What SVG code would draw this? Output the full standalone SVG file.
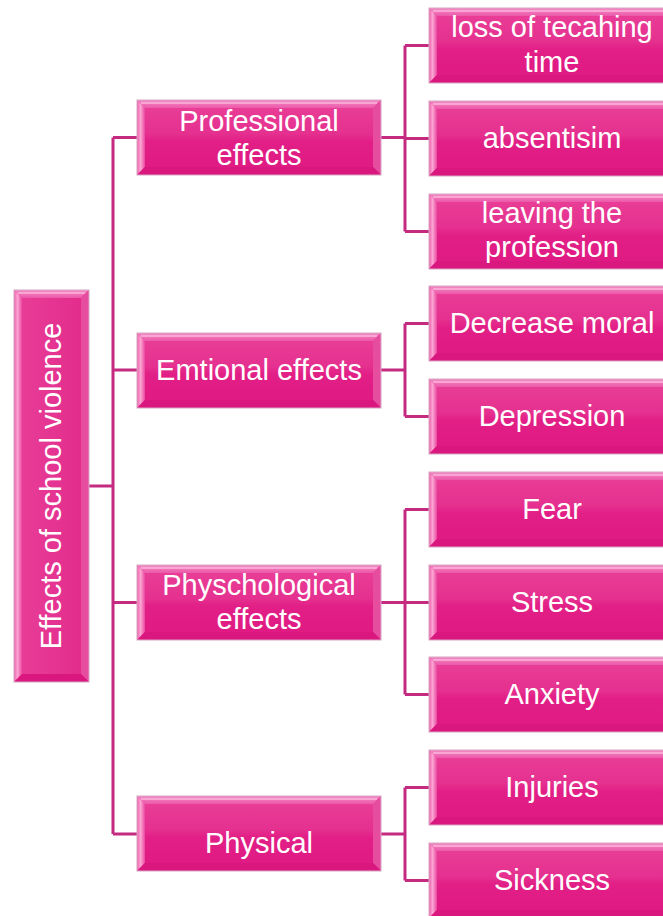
<svg xmlns="http://www.w3.org/2000/svg" xmlns:xlink="http://www.w3.org/1999/xlink" width="663" height="916" viewBox="0 0 663 916">
  <style>
    .lbl { font-family: "Liberation Sans", Arial, sans-serif; font-size: 29px; fill: #ffffff; text-anchor: middle; }
    .wire { fill: none; stroke: #c42a80; stroke-width: 3; }
    .edge { fill: none; stroke: #d6a6c3; stroke-width: 1; }
    .shine { fill: none; stroke: #fbb6dc; stroke-width: 1.5; }
  </style>
  <defs>
    <linearGradient id="face" x1="0" y1="0" x2="0" y2="1">
      <stop offset="0" stop-color="#e94198"/>
      <stop offset="0.45" stop-color="#e5308f"/>
      <stop offset="0.55" stop-color="#e21f86"/>
      <stop offset="1" stop-color="#df1a83"/>
    </linearGradient>
    <linearGradient id="faceV" x1="0" y1="0" x2="1" y2="0">
      <stop offset="0" stop-color="#e83f98"/>
      <stop offset="1" stop-color="#e22a8b"/>
    </linearGradient>
    <linearGradient id="topBevel" x1="0" y1="0" x2="0" y2="1">
      <stop offset="0" stop-color="#f48bc5"/>
      <stop offset="1" stop-color="#ec59a9"/>
    </linearGradient>
    <linearGradient id="leftBevel" x1="0" y1="0" x2="1" y2="0">
      <stop offset="0" stop-color="#ee5eab"/>
      <stop offset="0.45" stop-color="#fba6d4"/>
      <stop offset="1" stop-color="#e9479e"/>
    </linearGradient>

    <!-- level-one box: 244 x 75 -->
    <g id="box1">
      <rect x="0" y="0" width="244" height="75" fill="url(#face)"/>
      <polygon points="0,0 244,0 236,8 8,8" fill="url(#topBevel)"/>
      <polygon points="0,0 8,8 8,67 0,75" fill="url(#leftBevel)"/>
      <polygon points="244,0 244,75 236,67 236,8" fill="#e64d9f"/>
      <polygon points="0,75 8,67 236,67 244,75" fill="#d9177e"/>
      <path class="shine" d="M4,3 H240"/>
      <rect x="0" y="0" width="244" height="75" class="edge"/>
    </g>

    <!-- level-two box: 246 x 75 -->
    <g id="box2">
      <rect x="0" y="0" width="246" height="75" fill="url(#face)"/>
      <polygon points="0,0 246,0 238,8 8,8" fill="url(#topBevel)"/>
      <polygon points="0,0 8,8 8,67 0,75" fill="url(#leftBevel)"/>
      <polygon points="246,0 246,75 238,67 238,8" fill="#e64d9f"/>
      <polygon points="0,75 8,67 238,67 246,75" fill="#d9177e"/>
      <path class="shine" d="M4,3 H242"/>
      <rect x="0" y="0" width="246" height="75" class="edge"/>
    </g>
  </defs>

  <rect width="663" height="916" fill="#ffffff"/>

  <!-- connectors -->
  <g id="connectors">
    <!-- root to level one -->
    <path class="wire" d="M89,486 H113"/>
    <path class="wire" d="M113,137.5 V834"/>
    <path class="wire" d="M113,137.5 H137 M113,370 H137 M113,602.5 H137 M113,834 H137"/>
    <!-- professional effects -->
    <path class="wire" d="M381,137.5 H405 M405,45.5 V231.5 M405,45.5 H429 M405,138.5 H429 M405,231.5 H429"/>
    <!-- emotional effects -->
    <path class="wire" d="M381,370 H405 M405,323.5 V416.5 M405,323.5 H429 M405,416.5 H429"/>
    <!-- psychological effects -->
    <path class="wire" d="M381,602.5 H405 M405,509.5 V694.5 M405,509.5 H429 M405,602.5 H429 M405,694.5 H429"/>
    <!-- physical -->
    <path class="wire" d="M381,834 H405 M405,787.5 V880.5 M405,787.5 H429 M405,880.5 H429"/>
  </g>

  <!-- root -->
  <g id="root">
    <rect x="14" y="290" width="75" height="392" fill="url(#faceV)"/>
    <polygon points="14,290 89,290 81,298 22,298" fill="url(#topBevel)"/>
    <polygon points="14,290 22,298 22,674 14,682" fill="url(#leftBevel)"/>
    <polygon points="89,290 89,682 81,674 81,298" fill="#e64d9f"/>
    <polygon points="14,682 22,674 81,674 89,682" fill="#d9177e"/>
    <path class="shine" d="M18,293 H85"/>
    <rect x="14" y="290" width="75" height="392" class="edge"/>
    <text class="lbl" transform="translate(61,486) rotate(-90)" x="0" y="0">Effects of school violence</text>
  </g>

  <!-- level one -->
  <g id="professional">
    <use xlink:href="#box1" x="137" y="100"/>
    <text class="lbl" x="259" y="131">Professional</text>
    <text class="lbl" x="259" y="165">effects</text>
  </g>
  <g id="emotional">
    <use xlink:href="#box1" x="137" y="333"/>
    <text class="lbl" x="259" y="380">Emtional effects</text>
  </g>
  <g id="psychological">
    <use xlink:href="#box1" x="137" y="565"/>
    <text class="lbl" x="259" y="595">Physchological</text>
    <text class="lbl" x="259" y="629">effects</text>
  </g>
  <g id="physical">
    <use xlink:href="#box1" x="137" y="796"/>
    <text class="lbl" x="259" y="853">Physical</text>
  </g>

  <!-- level two -->
  <g id="loss-time">
    <use xlink:href="#box2" x="429" y="8"/>
    <text class="lbl" x="552" y="37">loss of tecahing</text>
    <text class="lbl" x="552" y="72">time</text>
  </g>
  <g id="absentism">
    <use xlink:href="#box2" x="429" y="101"/>
    <text class="lbl" x="552" y="148">absentisim</text>
  </g>
  <g id="leaving">
    <use xlink:href="#box2" x="429" y="194"/>
    <text class="lbl" x="552" y="223">leaving the</text>
    <text class="lbl" x="552" y="257">profession</text>
  </g>
  <g id="moral">
    <use xlink:href="#box2" x="429" y="286"/>
    <text class="lbl" x="552" y="333">Decrease moral</text>
  </g>
  <g id="depression">
    <use xlink:href="#box2" x="429" y="379"/>
    <text class="lbl" x="552" y="426">Depression</text>
  </g>
  <g id="fear">
    <use xlink:href="#box2" x="429" y="472"/>
    <text class="lbl" x="552" y="519">Fear</text>
  </g>
  <g id="stress">
    <use xlink:href="#box2" x="429" y="565"/>
    <text class="lbl" x="552" y="612">Stress</text>
  </g>
  <g id="anxiety">
    <use xlink:href="#box2" x="429" y="657"/>
    <text class="lbl" x="552" y="704">Anxiety</text>
  </g>
  <g id="injuries">
    <use xlink:href="#box2" x="429" y="750"/>
    <text class="lbl" x="552" y="797">Injuries</text>
  </g>
  <g id="sickness">
    <use xlink:href="#box2" x="429" y="843"/>
    <text class="lbl" x="552" y="890">Sickness</text>
  </g>
</svg>
